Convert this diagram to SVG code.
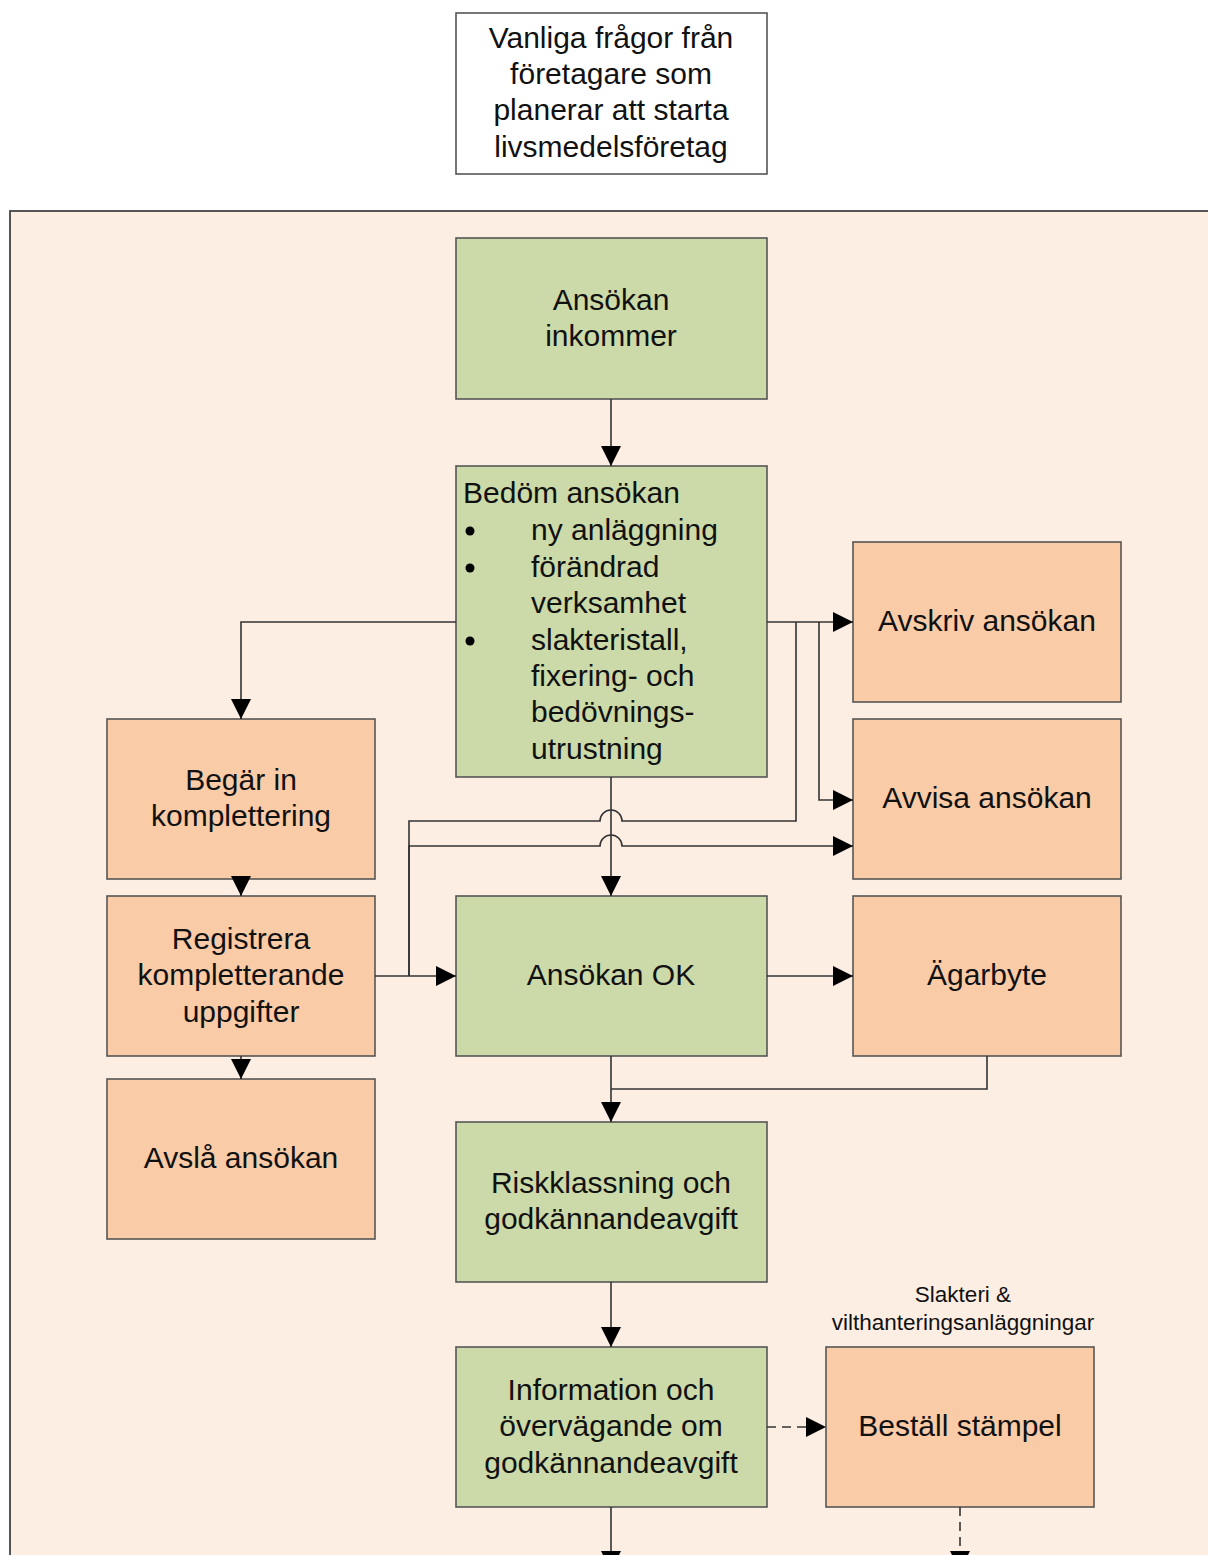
<svg xmlns="http://www.w3.org/2000/svg" width="1208" height="1555" viewBox="0 0 1208 1555">
<defs>
<style>
text{font-family:"Liberation Sans",Arial,sans-serif;font-size:30px;fill:#111;}
.c{text-anchor:middle;}
.g{fill:#cbdaa8;stroke:#555;stroke-width:1.6;}
.o{fill:#f9cba7;stroke:#555;stroke-width:1.6;}
.ln{fill:none;stroke:#333;stroke-width:1.6;}
.d{stroke-dasharray:9,6;}
.lbl{font-size:22.5px;}
</style>
<marker id="ah" markerUnits="userSpaceOnUse" markerWidth="20" markerHeight="20" refX="20" refY="10" orient="auto">
<path d="M0,0 L20,10 L0,20 z" fill="#000"/>
</marker>
</defs>
<rect x="0" y="0" width="1208" height="1555" fill="#fff"/>
<rect x="10" y="211" width="1220" height="1370" fill="#fdeee4" stroke="#444" stroke-width="1.8"/>
<g id="title">
<rect x="456" y="13" width="311" height="161" fill="#fff" stroke="#555" stroke-width="1.6"/>
<text class="c" x="611" y="48">Vanliga frågor från</text>
<text class="c" x="611" y="84">företagare som</text>
<text class="c" x="611" y="120">planerar att starta</text>
<text class="c" x="611" y="157">livsmedelsföretag</text>
</g>
<g id="n-inkommer">
<rect class="g" x="456" y="238" width="311" height="161"/>
<text class="c" x="611" y="310">Ansökan</text>
<text class="c" x="611" y="346">inkommer</text>
</g>
<g id="n-bedom">
<rect class="g" x="456" y="466" width="311" height="311"/>
<text x="463" y="503">Bedöm ansökan</text>
<circle cx="470" cy="531" r="4.5" fill="#000"/>
<text x="531" y="540">ny anläggning</text>
<circle cx="470" cy="568" r="4.5" fill="#000"/>
<text x="531" y="577">förändrad</text>
<text x="531" y="613">verksamhet</text>
<circle cx="470" cy="641" r="4.5" fill="#000"/>
<text x="531" y="650">slakteristall,</text>
<text x="531" y="686">fixering- och</text>
<text x="531" y="722">bedövnings-</text>
<text x="531" y="759">utrustning</text>
</g>
<g id="n-avskriv">
<rect class="o" x="853" y="542" width="268" height="160"/>
<text class="c" x="987" y="631">Avskriv ansökan</text>
</g>
<g id="n-avvisa">
<rect class="o" x="853" y="719" width="268" height="160"/>
<text class="c" x="987" y="808">Avvisa ansökan</text>
</g>
<g id="n-begar">
<rect class="o" x="107" y="719" width="268" height="160"/>
<text class="c" x="241" y="790">Begär in</text>
<text class="c" x="241" y="826">komplettering</text>
</g>
<g id="n-registrera">
<rect class="o" x="107" y="896" width="268" height="160"/>
<text class="c" x="241" y="949">Registrera</text>
<text class="c" x="241" y="985">kompletterande</text>
<text class="c" x="241" y="1022">uppgifter</text>
</g>
<g id="n-avsla">
<rect class="o" x="107" y="1079" width="268" height="160"/>
<text class="c" x="241" y="1168">Avslå ansökan</text>
</g>
<g id="n-ok">
<rect class="g" x="456" y="896" width="311" height="160"/>
<text class="c" x="611" y="985">Ansökan OK</text>
</g>
<g id="n-agarbyte">
<rect class="o" x="853" y="896" width="268" height="160"/>
<text class="c" x="987" y="985">Ägarbyte</text>
</g>
<g id="n-risk">
<rect class="g" x="456" y="1122" width="311" height="160"/>
<text class="c" x="611" y="1193">Riskklassning och</text>
<text class="c" x="611" y="1229">godkännandeavgift</text>
</g>
<g id="n-info">
<rect class="g" x="456" y="1347" width="311" height="160"/>
<text class="c" x="611" y="1400">Information och</text>
<text class="c" x="611" y="1436">övervägande om</text>
<text class="c" x="611" y="1473">godkännandeavgift</text>
</g>
<g id="n-stampel">
<text class="c lbl" x="963" y="1302">Slakteri &amp;</text>
<text class="c lbl" x="963" y="1330">vilthanteringsanläggningar</text>
<rect class="o" x="826" y="1347" width="268" height="160"/>
<text class="c" x="960" y="1436">Beställ stämpel</text>
</g>
<g id="connectors">
<path class="ln" d="M611,399 V466" marker-end="url(#ah)"/>
<path class="ln" d="M456,622 H241 V719" marker-end="url(#ah)"/>
<path class="ln" d="M767,622 H853" marker-end="url(#ah)"/>
<path class="ln" d="M819,622 V800 H853" marker-end="url(#ah)"/>
<path class="ln" d="M796,622 V821 H622 A11,11 0 0 0 600,821 H409 V976"/>
<path class="ln" d="M375,976 H456" marker-end="url(#ah)"/>
<path class="ln" d="M409,976 V846 H600 A11,11 0 0 1 622,846 H853" marker-end="url(#ah)"/>
<path class="ln" d="M241,879 V896" marker-end="url(#ah)"/>
<path class="ln" d="M241,1056 V1079" marker-end="url(#ah)"/>
<path class="ln" d="M611,777 V896" marker-end="url(#ah)"/>
<path class="ln" d="M767,976 H853" marker-end="url(#ah)"/>
<path class="ln" d="M611,1056 V1122" marker-end="url(#ah)"/>
<path class="ln" d="M987,1056 V1089 H611"/>
<path class="ln" d="M611,1282 V1347" marker-end="url(#ah)"/>
<path class="ln d" d="M767,1427 H826" marker-end="url(#ah)"/>
<path class="ln" d="M611,1507 V1571" marker-end="url(#ah)"/>
<path class="ln d" d="M960,1507 V1571" marker-end="url(#ah)"/>
</g>
</svg>
